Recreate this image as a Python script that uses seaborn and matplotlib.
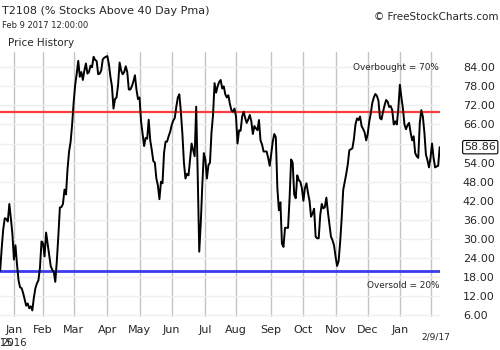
import numpy as np
import pandas as pd
import seaborn as sns
import matplotlib
matplotlib.use('Agg')
import matplotlib.pyplot as plt
import matplotlib.transforms as mtransforms

# T2108 daily readings (Dec 18 2015 -> Feb 9 2017)
dec15 = [20, 27, 33, 36.5, 36.3, 35.5, 41, 36.5, 31.5]
jan16 = [23.5, 28, 22, 17, 14.8, 14.5, 13, 11, 9, 9.7, 8.2, 8.8, 7.5, 11.5, 14.5, 16, 17, 21, 29.2]
feb16 = [28.6, 24.5, 32, 28.5, 25, 21.5, 20.3, 19.6, 16.5, 23, 31, 39.9, 40, 41, 45.5, 44, 52, 57.5, 60.5, 66]
mar16 = [73, 78.5, 82, 86, 81, 82.5, 80, 83, 85.2, 82, 82.5, 84.5, 84, 87.3, 86.3, 86, 81.8, 82, 83, 86.5, 87,
         87.3]
apr16 = [87.5, 85, 81, 78, 71, 74, 74.5, 78.5, 85.5, 83, 81.8, 82.5, 84.3, 82.5, 77, 77, 78, 79.5, 81.5, 77, 74]
may16 = [74.5, 67, 63, 59.2, 61.8, 61.5, 67.5, 61, 58, 54.5, 54, 49, 46.8, 42.5, 48, 47.5, 57, 60.6, 60.6, 62.3, 63.7]
jun16 = [65.8, 67.2, 68, 71.5, 74.5, 75.5, 70, 63, 54, 49, 50.5, 50, 55, 60, 58, 56, 71.6, 50, 26, 35, 47, 57]
jul16 = [55, 49, 53.2, 54, 63.5, 69, 79, 76, 78, 79.4, 80, 77.3, 78, 75.5, 74.5, 75.2, 72.5, 70.5, 70, 71]
aug16 = [68.5, 60, 64.2, 64, 68.5, 70, 68, 66.5, 67.6, 69, 67, 63, 65.5, 64.8, 64.2, 67.4, 61, 59.7, 57.5, 57.5,
         57.5, 55.5, 53]
sep16 = [56.9, 60.6, 63, 62, 46, 39, 41.5, 28.5, 27.5, 33.5, 33.5, 33.5, 43, 55, 54, 44, 42.8, 50, 48.5, 48, 46]
oct16 = [42, 46, 47.5, 44.5, 42, 37, 38, 39.5, 30.7, 30.2, 30.2, 37.5, 41, 39.6, 40, 43, 38.5, 34.5, 30.7, 29.6, 28]
nov16 = [24.5, 21.5, 23, 29, 36.5, 45.4, 48, 50.5, 53.5, 57.9, 58.2, 58.5, 61.5, 66, 67.9, 67.4, 68.5, 65.5, 64.6,
         63.5, 61]
dec16 = [63, 66.9, 69.5, 72.8, 74.5, 75.6, 75, 73.5, 68, 67.6, 70, 72, 73.7, 73.2, 71.5, 71.8, 70.5, 66, 67, 66, 71]
jan17 = [78.5, 74.5, 71, 66, 64.5, 65.8, 66.5, 63.5, 61, 62.3, 57, 56, 55.5, 66.5, 70.5, 68.5, 63.5, 56.5, 54.8, 52.5]
feb17 = [55.5, 60, 55.5, 52.5, 52.8, 53, 58.86]

t2108 = (dec15 + jan16 + feb16 + mar16 + apr16 + may16 + jun16 + jul16 + aug16 + sep16
         + oct16 + nov16 + dec16 + jan17 + feb17)

# market holidays so the x axis runs in trading days
holidays = ['2015-12-25', '2016-01-01', '2016-01-18', '2016-02-15', '2016-03-25', '2016-05-30',
            '2016-07-04', '2016-09-05', '2016-11-24', '2016-12-26', '2017-01-02', '2017-01-16']

overbought = 70
oversold = 20
yticks = np.arange(6, 85, 6)

dates = pd.bdate_range('2015-12-18', periods=len(t2108), freq='C', holidays=holidays)
df = pd.DataFrame({'day': np.arange(len(t2108)), 'value': t2108, 'date': dates})

sns.set_style('white')
plt.rcParams['font.family'] = ['DejaVu Sans']

fig = plt.figure(figsize=(5, 3.5), dpi=100)
ax = fig.add_axes([0, 33 / 350, 0.88, 265 / 350])

# month starts -> vertical gridlines
new_month = df['date'].dt.month != df['date'].dt.month.shift()
month_days = df.loc[new_month, 'day'].values[1:]
month_names = list(df.loc[new_month, 'date'].dt.strftime('%b').values[1:])
month_names[-1] = ''

ax.axhline(overbought, color='#ff3b3b', lw=1.6, zorder=2)
ax.axhline(oversold, color='#3a3af0', lw=2, zorder=2)
sns.lineplot(data=df, x='day', y='value', color='black', lw=1.4, ax=ax, zorder=3)

ax.set_xlim(-0.1, len(t2108) - 0.8)
ax.set_ylim(5.44, 88.8)
ax.set_xticks(month_days)
ax.set_xticklabels(month_names)
ax.set_yticks(yticks)
ax.set_yticklabels([f'{v:.2f}' for v in yticks])
ax.yaxis.tick_right()
ax.set_axisbelow(True)
ax.xaxis.grid(True, color='#c4c4c4', lw=1)
ax.yaxis.grid(True, color='#efefef', lw=1)
ax.tick_params(axis='y', length=0, pad=16.5, labelsize=8)
ax.tick_params(axis='x', length=0, pad=5.5, labelsize=8)
ax.set_xlabel('')
ax.set_ylabel('')
sns.despine(ax=ax, left=True, bottom=True)

band = mtransforms.blended_transform_factory(ax.transAxes, ax.transData)
ax.text(0.998, 84, 'Overbought = 70%', transform=band, ha='right', va='center', fontsize=6.4)
ax.text(0.998, 15.2, 'Oversold = 20%', transform=band, ha='right', va='center', fontsize=6.4)

# last value box on the price scale
ax.annotate(f'{t2108[-1]:.2f}', xy=(1, t2108[-1]), xycoords=band, xytext=(17.5, 0),
            textcoords='offset points', ha='left', va='center', fontsize=8, zorder=10,
            annotation_clip=False,
            bbox=dict(boxstyle='round,pad=0.15', fc='white', ec='black', lw=0.8))

yrs = mtransforms.blended_transform_factory(ax.transData, fig.transFigure)
jan_day = df.loc[(df['date'].dt.year == 2016), 'day'].iloc[0]
ax.text(0, 1 - 343 / 350, '2015', transform=yrs, ha='center', va='center', fontsize=7.3, clip_on=False)
ax.text(jan_day, 1 - 343 / 350, '2016', transform=yrs, ha='center', va='center', fontsize=7.3, clip_on=False)
ax.text(df['day'].iloc[-1] - 2.5, 1 - 337 / 350, dates[-1].strftime('%-m/%-d/%y'), transform=yrs,
        ha='center', va='center', fontsize=6.5, clip_on=False)

fig.text(2 / 500, 1 - 11 / 350, 'T2108 (% Stocks Above 40 Day Pma)', fontsize=8, va='center')
fig.text(2 / 500, 1 - 25.5 / 350, 'Feb 9 2017 12:00:00', fontsize=6, va='center')
fig.text(8 / 500, 1 - 43 / 350, 'Price History', fontsize=7.5, va='center')
fig.text(498 / 500, 1 - 17 / 350, '© FreeStockCharts.com', fontsize=7.5, ha='right', va='center')

fig.savefig('out.png', dpi=100)
